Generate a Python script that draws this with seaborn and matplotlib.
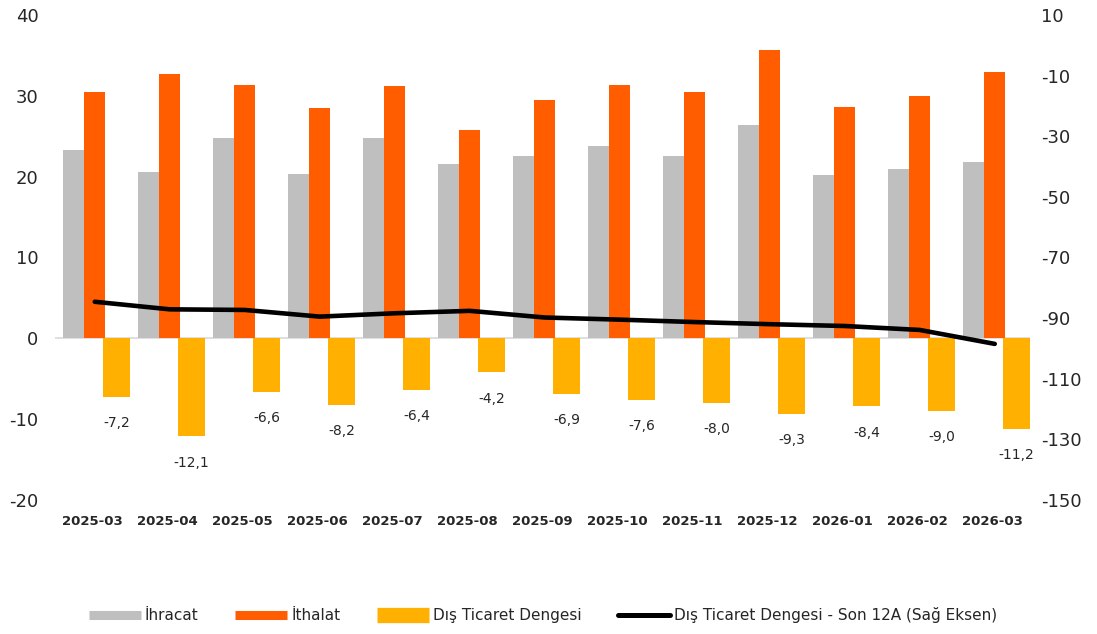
import numpy as np
import pandas as pd
import matplotlib
matplotlib.use("Agg")
import matplotlib.pyplot as plt
from matplotlib.lines import Line2D
import seaborn as sns

months = ["2025-03", "2025-04", "2025-05", "2025-06", "2025-07", "2025-08", "2025-09",
          "2025-10", "2025-11", "2025-12", "2026-01", "2026-02", "2026-03"]
ihracat = [23.3, 20.6, 24.8, 20.3, 24.8, 21.6, 22.6, 23.8, 22.5, 26.4, 20.2, 21.0, 21.8]
ithalat = [30.5, 32.7, 31.4, 28.5, 31.2, 25.8, 29.5, 31.4, 30.5, 35.7, 28.6, 30.0, 33.0]
denge = [-7.2, -12.1, -6.6, -8.2, -6.4, -4.2, -6.9, -7.6, -8.0, -9.3, -8.4, -9.0, -11.2]
son12a = [-84.6, -87.1, -87.3, -89.5, -88.4, -87.6, -89.8, -90.5, -91.3, -92.0, -92.6, -93.9, -98.5]

left_ticks = [-20, -10, 0, 10, 20, 30, 40]
right_ticks = [-150, -130, -110, -90, -70, -50, -30, -10, 10]

lbl_ihr = "İhracat"
lbl_ith = "İthalat"
lbl_den = "Dış Ticaret Dengesi"
lbl_line = "Dış Ticaret Dengesi - Son 12A (Sağ Eksen)"

c_gray = "#BFBFBF"
c_orange = "#FF5D00"
c_gold = "#FFB000"
txt = "#262626"

sns.set_theme(style="white")
plt.rcParams["font.family"] = ["DejaVu Sans"]
plt.rcParams["axes.unicode_minus"] = False

fig = plt.figure(figsize=(10.97, 6.34), dpi=100)
ax = fig.add_axes([55 / 1097, 1 - 500 / 634, (1030 - 55) / 1097, 485 / 634])

idx = np.arange(len(months))
df = pd.DataFrame({"i": idx, "ihr": ihracat, "ith": ithalat, "den": denge, "line": son12a})

sns.barplot(x=df["i"] - 0.25, y=df["ihr"], native_scale=True, orient="x", width=0.28,
            color=c_gray, saturation=1, errorbar=None, linewidth=0, ax=ax)
sns.barplot(x=df["i"] + 0.03, y=df["ith"], native_scale=True, orient="x", width=0.28,
            color=c_orange, saturation=1, errorbar=None, linewidth=0, ax=ax)
sns.barplot(x=df["i"] + 0.32, y=df["den"], native_scale=True, orient="x", width=0.36,
            color=c_gold, saturation=1, errorbar=None, linewidth=0, ax=ax)

for xi, v in zip(df["i"] + 0.32, denge):
    ax.annotate(f"{v:.1f}".replace(".", ","), (xi, v), xytext=(0, -19),
                textcoords="offset points", ha="center", va="center",
                fontsize=10, color=txt)

ax.axhline(0, color="#D9D9D9", lw=1.2, zorder=0.5)
ax.set_xlim(-0.5, len(months) - 0.5)
ax.set_ylim(-20, 40)
ax.set_yticks(left_ticks)
ax.set_xticks(idx)
ax.set_xticklabels(months, fontsize=9.5, fontweight="bold", color=txt)
ax.tick_params(axis="x", length=0, pad=11)
ax.tick_params(axis="y", length=0, pad=12, labelsize=13, labelcolor=txt)
ax.set_xlabel("")
ax.set_ylabel("")
for s in ax.spines.values():
    s.set_visible(False)

ax2 = ax.twinx()
sns.lineplot(x=df["i"] + 0.03, y=df["line"], color="black", lw=3.3, ax=ax2)
ax2.set_ylim(-150, 10)
ax2.set_yticks(right_ticks)
ax2.tick_params(axis="y", length=0, pad=8, labelsize=13, labelcolor=txt)
ax2.set_ylabel("")
ax2.set_xlabel("")
ax2.grid(False)
for s in ax2.spines.values():
    s.set_visible(False)

handles = [Line2D([0], [0], color=c_gray, lw=6.5, solid_capstyle="butt", label=lbl_ihr),
           Line2D([0], [0], color=c_orange, lw=6.5, solid_capstyle="butt", label=lbl_ith),
           Line2D([0], [0], color=c_gold, lw=11, solid_capstyle="butt", label=lbl_den),
           Line2D([0], [0], color="black", lw=3.6, solid_capstyle="round", label=lbl_line)]
leg = fig.legend(handles=handles, loc="center", bbox_to_anchor=(0.495, 1 - 615 / 634),
                 ncol=4, frameon=False, fontsize=11, handlelength=3.4,
                 columnspacing=2.4, handletextpad=0.25)
for t in leg.get_texts():
    t.set_color(txt)

fig.savefig("out.png", dpi=100)
